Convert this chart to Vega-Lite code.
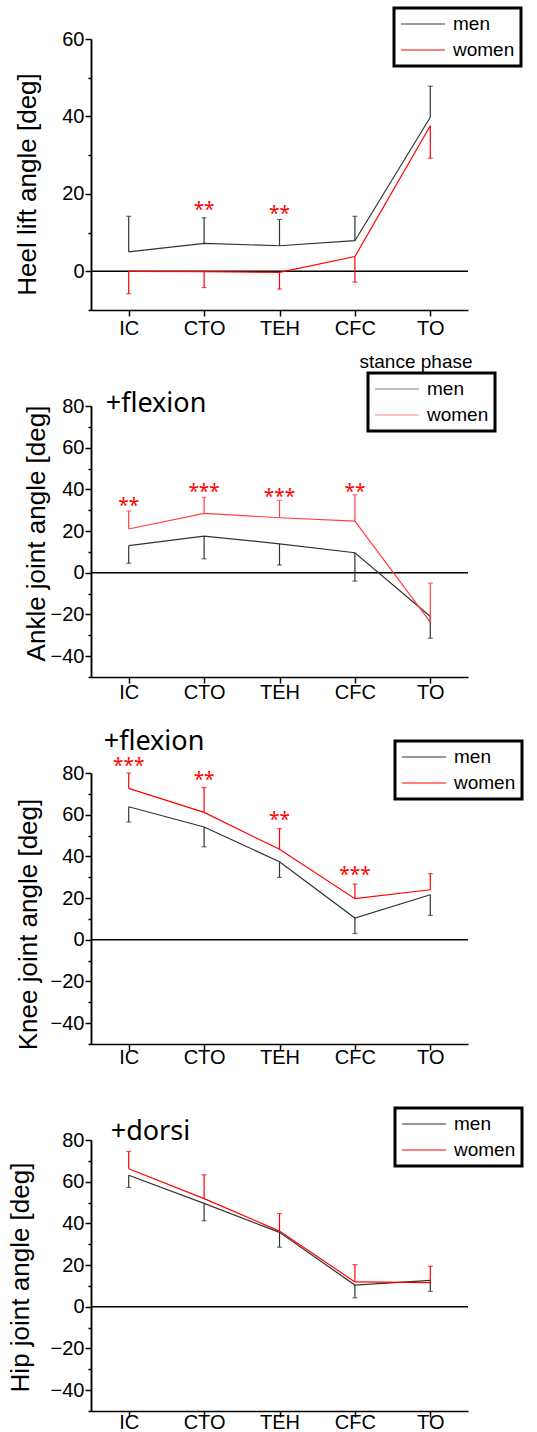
{
  "$schema": "https://vega.github.io/schema/vega-lite/v6.json",
  "background": "white",
  "padding": {"left": 6, "top": 6, "right": 5, "bottom": 5},
  "datasets": {
    "angles": [
      {"panel": "heel", "phase": "IC", "sex": "men", "mean": 5.0, "bar": 14.2},
      {"panel": "heel", "phase": "CTO", "sex": "men", "mean": 7.2, "bar": 13.8},
      {"panel": "heel", "phase": "TEH", "sex": "men", "mean": 6.6, "bar": 13.4},
      {"panel": "heel", "phase": "CFC", "sex": "men", "mean": 7.9, "bar": 14.2},
      {"panel": "heel", "phase": "TO", "sex": "men", "mean": 39.8, "bar": 47.8},
      {"panel": "heel", "phase": "IC", "sex": "women", "mean": 0.0, "bar": -5.8},
      {"panel": "heel", "phase": "CTO", "sex": "women", "mean": -0.1, "bar": -4.2},
      {"panel": "heel", "phase": "TEH", "sex": "women", "mean": -0.3, "bar": -4.6},
      {"panel": "heel", "phase": "CFC", "sex": "women", "mean": 3.8, "bar": -2.8},
      {"panel": "heel", "phase": "TO", "sex": "women", "mean": 37.6, "bar": 29.2},
      {"panel": "ankle", "phase": "IC", "sex": "men", "mean": 13.0, "bar": 4.6},
      {"panel": "ankle", "phase": "CTO", "sex": "men", "mean": 17.6, "bar": 6.7},
      {"panel": "ankle", "phase": "TEH", "sex": "men", "mean": 13.9, "bar": 3.7},
      {"panel": "ankle", "phase": "CFC", "sex": "men", "mean": 9.6, "bar": -4.0},
      {"panel": "ankle", "phase": "TO", "sex": "men", "mean": -21.0, "bar": -31.4},
      {"panel": "ankle", "phase": "IC", "sex": "women", "mean": 21.0, "bar": 29.6},
      {"panel": "ankle", "phase": "CTO", "sex": "women", "mean": 28.5, "bar": 36.2},
      {"panel": "ankle", "phase": "TEH", "sex": "women", "mean": 26.4, "bar": 34.7},
      {"panel": "ankle", "phase": "CFC", "sex": "women", "mean": 24.8, "bar": 37.4},
      {"panel": "ankle", "phase": "TO", "sex": "women", "mean": -23.7, "bar": -5.0},
      {"panel": "knee", "phase": "IC", "sex": "men", "mean": 63.8, "bar": 56.5},
      {"panel": "knee", "phase": "CTO", "sex": "men", "mean": 54.1, "bar": 44.6},
      {"panel": "knee", "phase": "TEH", "sex": "men", "mean": 37.4, "bar": 29.9},
      {"panel": "knee", "phase": "CFC", "sex": "men", "mean": 10.4, "bar": 3.0},
      {"panel": "knee", "phase": "TO", "sex": "men", "mean": 21.6, "bar": 11.7},
      {"panel": "knee", "phase": "IC", "sex": "women", "mean": 72.6, "bar": 80.0},
      {"panel": "knee", "phase": "CTO", "sex": "women", "mean": 61.1, "bar": 73.0},
      {"panel": "knee", "phase": "TEH", "sex": "women", "mean": 43.4, "bar": 53.3},
      {"panel": "knee", "phase": "CFC", "sex": "women", "mean": 19.7, "bar": 26.7},
      {"panel": "knee", "phase": "TO", "sex": "women", "mean": 24.0, "bar": 31.7},
      {"panel": "hip", "phase": "IC", "sex": "men", "mean": 63.1, "bar": 57.2},
      {"panel": "hip", "phase": "CTO", "sex": "men", "mean": 49.6, "bar": 41.3},
      {"panel": "hip", "phase": "TEH", "sex": "men", "mean": 35.7, "bar": 28.6},
      {"panel": "hip", "phase": "CFC", "sex": "men", "mean": 10.4, "bar": 4.3},
      {"panel": "hip", "phase": "TO", "sex": "men", "mean": 12.7, "bar": 7.4},
      {"panel": "hip", "phase": "IC", "sex": "women", "mean": 66.2, "bar": 74.5},
      {"panel": "hip", "phase": "CTO", "sex": "women", "mean": 51.9, "bar": 63.3},
      {"panel": "hip", "phase": "TEH", "sex": "women", "mean": 36.3, "bar": 44.7},
      {"panel": "hip", "phase": "CFC", "sex": "women", "mean": 11.9, "bar": 20.2},
      {"panel": "hip", "phase": "TO", "sex": "women", "mean": 11.6, "bar": 19.4}
    ],
    "notes": [
      {"panel": "heel", "kind": "sig", "phase": "CTO", "label": "**", "pos": 14.4},
      {"panel": "heel", "kind": "sig", "phase": "TEH", "label": "**", "pos": 13.2},
      {"panel": "ankle", "kind": "sig", "phase": "IC", "label": "**", "pos": 29.3},
      {"panel": "ankle", "kind": "sig", "phase": "CTO", "label": "***", "pos": 36.0},
      {"panel": "ankle", "kind": "sig", "phase": "TEH", "label": "***", "pos": 33.6},
      {"panel": "ankle", "kind": "sig", "phase": "CFC", "label": "**", "pos": 36.0},
      {"panel": "knee", "kind": "sig", "phase": "IC", "label": "***", "pos": 80.3},
      {"panel": "knee", "kind": "sig", "phase": "CTO", "label": "**", "pos": 73.8},
      {"panel": "knee", "kind": "sig", "phase": "TEH", "label": "**", "pos": 54.6},
      {"panel": "knee", "kind": "sig", "phase": "CFC", "label": "***", "pos": 28.3},
      {"panel": "ankle", "kind": "dir", "phase": "IC", "label": "+flexion", "pos": 77.3},
      {"panel": "knee", "kind": "dir", "phase": "IC", "label": "+flexion", "pos": 90.9},
      {"panel": "hip", "kind": "dir", "phase": "IC", "label": "+dorsi", "pos": 80.0}
    ]
  },
  "config": {
    "view": {"stroke": null},
    "axis": {
      "grid": false,
      "labelFont": "Liberation Sans", "labelFontSize": 20, "labelColor": "black", "labelOverlap": false,
      "domainColor": "black", "domainWidth": 1.5,
      "tickColor": "black", "tickWidth": 1.5,
      "titleFont": "Liberation Sans", "titleFontSize": 26, "titleFontWeight": "normal", "titleColor": "black"
    },
    "legend": {
      "orient": "none", "direction": "vertical", "title": null,
      "symbolType": "stroke", "symbolSize": 1936, "symbolStrokeWidth": 1.2,
      "clipHeight": 20, "rowPadding": 6, "padding": 6, "labelOffset": 7,
      "labelFont": "Liberation Sans", "labelFontSize": 19, "labelColor": "black",
      "strokeColor": "black", "fillColor": "white"
    }
  },
  "bounds": "flush",
  "spacing": 96,
  "resolve": {"scale": {"y": "independent", "color": "independent"}, "legend": {"color": "independent"}},
  "vconcat": [
    {
      "width": 377, "height": 271,
      "resolve": {"axis": {"y": "independent"}},
      "layer": [
        {"data": {"values": [{"mean": 0}]}, "mark": {"type": "rule", "color": "black", "strokeWidth": 1.5},
         "encoding": {"y": {"field": "mean", "type": "quantitative", "scale": {"domain": [-10, 60], "nice": false, "zero": false},
           "axis": {"orient": "left", "values": [-10, 10, 30, 50], "labels": false, "tickSize": 3, "title": null}}}},
        {"data": {"name": "angles"}, "transform": [{"filter": "datum.panel === 'heel'"}],
         "mark": {"type": "line", "strokeWidth": 1.2},
         "encoding": {
           "x": {"field": "phase", "type": "nominal", "sort": null, "scale": {"type": "point", "padding": 0.5, "domain": ["IC", "CTO", "TEH", "CFC", "TO"]},
                 "axis": {"title": "stance phase", "titleFontSize": 19, "titleX": 268, "titleY": 57, "titleAlign": "left", "titleBaseline": "alphabetic", "labelAngle": 0, "tickSize": 6, "labelPadding": 2}},
           "y": {"field": "mean", "type": "quantitative", "scale": {"domain": [-10, 60], "nice": false, "zero": false},
                 "axis": {"orient": "left", "title": "Heel lift angle [deg]", "titleX": -56, "titleY": 145, "titleAlign": "center", "titleBaseline": "alphabetic",
                          "values": [0, 20, 40, 60], "tickSize": 6, "labelPadding": 1}},
           "color": {"field": "sex", "type": "nominal", "scale": {"domain": ["men", "women"], "range": ["#333333", "#ff0000"]},
                     "legend": {"legendX": 303, "legendY": -31, "encode": {"legend": {"update": {"strokeWidth": {"value": 3}}}}}}
         }},
        {"data": {"name": "angles"}, "transform": [{"filter": "datum.panel === 'heel'"}],
         "mark": {"type": "rule", "strokeWidth": 1.2},
         "encoding": {
           "x": {"field": "phase", "type": "nominal", "sort": null},
           "y": {"field": "mean", "type": "quantitative", "scale": {"domain": [-10, 60], "nice": false, "zero": false}, "axis": null},
           "y2": {"field": "bar"},
           "color": {"field": "sex", "type": "nominal"}
         }},
        {"data": {"name": "angles"}, "transform": [{"filter": "datum.panel === 'heel'"}],
         "mark": {"type": "tick", "orient": "horizontal", "size": 5, "thickness": 1.2},
         "encoding": {
           "x": {"field": "phase", "type": "nominal", "sort": null},
           "y": {"field": "bar", "type": "quantitative", "scale": {"domain": [-10, 60], "nice": false, "zero": false}, "axis": null},
           "color": {"field": "sex", "type": "nominal"}
         }},
        {"data": {"name": "notes"}, "transform": [{"filter": "datum.panel === 'heel' && datum.kind === 'sig'"}],
         "mark": {"type": "text", "font": "Noto Sans", "fontSize": 19, "color": "red", "baseline": "alphabetic", "align": "center"},
         "encoding": {
           "x": {"field": "phase", "type": "nominal", "sort": null},
           "y": {"field": "pos", "type": "quantitative", "scale": {"domain": [-10, 60], "nice": false, "zero": false}, "axis": null},
           "text": {"field": "label"}
         }}
      ]
    },
    {
      "width": 377, "height": 271,
      "resolve": {"axis": {"y": "independent"}},
      "layer": [
        {"data": {"values": [{"mean": 0}]}, "mark": {"type": "rule", "color": "black", "strokeWidth": 1.5},
         "encoding": {"y": {"field": "mean", "type": "quantitative", "scale": {"domain": [-50, 80], "nice": false, "zero": false},
           "axis": {"orient": "left", "values": [-50, -30, -10, 10, 30, 50, 70], "labels": false, "tickSize": 3, "title": null}}}},
        {"data": {"name": "angles"}, "transform": [{"filter": "datum.panel === 'ankle'"}],
         "mark": {"type": "line", "strokeWidth": 1.2},
         "encoding": {
           "x": {"field": "phase", "type": "nominal", "sort": null, "scale": {"type": "point", "padding": 0.5, "domain": ["IC", "CTO", "TEH", "CFC", "TO"]},
                 "axis": {"title": null, "labelAngle": 0, "tickSize": 6, "labelPadding": -1}},
           "y": {"field": "mean", "type": "quantitative", "scale": {"domain": [-50, 80], "nice": false, "zero": false},
                 "axis": {"orient": "left", "title": "Ankle joint angle [deg]", "titleX": -47, "titleY": 127, "titleAlign": "center", "titleBaseline": "alphabetic",
                          "values": [-40, -20, 0, 20, 40, 60, 80], "tickSize": 6, "labelPadding": 1}},
           "color": {"field": "sex", "type": "nominal", "scale": {"domain": ["men", "women"], "range": ["#333333", "#ff4040"]},
                     "legend": {"legendX": 277, "legendY": -33, "symbolOpacity": 0.6, "encode": {"legend": {"update": {"strokeWidth": {"value": 3}}}}}}
         }},
        {"data": {"name": "angles"}, "transform": [{"filter": "datum.panel === 'ankle'"}],
         "mark": {"type": "rule", "strokeWidth": 1.2},
         "encoding": {
           "x": {"field": "phase", "type": "nominal", "sort": null},
           "y": {"field": "mean", "type": "quantitative", "scale": {"domain": [-50, 80], "nice": false, "zero": false}, "axis": null},
           "y2": {"field": "bar"},
           "color": {"field": "sex", "type": "nominal"}
         }},
        {"data": {"name": "angles"}, "transform": [{"filter": "datum.panel === 'ankle'"}],
         "mark": {"type": "tick", "orient": "horizontal", "size": 5, "thickness": 1.2},
         "encoding": {
           "x": {"field": "phase", "type": "nominal", "sort": null},
           "y": {"field": "bar", "type": "quantitative", "scale": {"domain": [-50, 80], "nice": false, "zero": false}, "axis": null},
           "color": {"field": "sex", "type": "nominal"}
         }},
        {"data": {"name": "notes"}, "transform": [{"filter": "datum.panel === 'ankle' && datum.kind === 'sig'"}],
         "mark": {"type": "text", "font": "Noto Sans", "fontSize": 19, "color": "red", "baseline": "alphabetic", "align": "center"},
         "encoding": {
           "x": {"field": "phase", "type": "nominal", "sort": null},
           "y": {"field": "pos", "type": "quantitative", "scale": {"domain": [-50, 80], "nice": false, "zero": false}, "axis": null},
           "text": {"field": "label"}
         }},
        {"data": {"name": "notes"}, "transform": [{"filter": "datum.panel === 'ankle' && datum.kind === 'dir'"}],
         "mark": {"type": "text", "font": "Noto Sans", "fontSize": 27, "color": "black", "baseline": "alphabetic", "align": "left", "dx": -23},
         "encoding": {
           "x": {"field": "phase", "type": "nominal", "sort": null},
           "y": {"field": "pos", "type": "quantitative", "scale": {"domain": [-50, 80], "nice": false, "zero": false}, "axis": null},
           "text": {"field": "label"}
         }}
      ]
    },
    {
      "width": 377, "height": 271,
      "resolve": {"axis": {"y": "independent"}},
      "layer": [
        {"data": {"values": [{"mean": 0}]}, "mark": {"type": "rule", "color": "black", "strokeWidth": 1.5},
         "encoding": {"y": {"field": "mean", "type": "quantitative", "scale": {"domain": [-50, 80], "nice": false, "zero": false},
           "axis": {"orient": "left", "values": [-50, -30, -10, 10, 30, 50, 70], "labels": false, "tickSize": 3, "title": null}}}},
        {"data": {"name": "angles"}, "transform": [{"filter": "datum.panel === 'knee'"}],
         "mark": {"type": "line", "strokeWidth": 1.2},
         "encoding": {
           "x": {"field": "phase", "type": "nominal", "sort": null, "scale": {"type": "point", "padding": 0.5, "domain": ["IC", "CTO", "TEH", "CFC", "TO"]},
                 "axis": {"title": null, "labelAngle": 0, "tickSize": 6, "labelPadding": -3}},
           "y": {"field": "mean", "type": "quantitative", "scale": {"domain": [-50, 80], "nice": false, "zero": false},
                 "axis": {"orient": "left", "title": "Knee joint angle [deg]", "titleX": -55, "titleY": 151, "titleAlign": "center", "titleBaseline": "alphabetic",
                          "values": [-40, -20, 0, 20, 40, 60, 80], "tickSize": 6, "labelPadding": 1}},
           "color": {"field": "sex", "type": "nominal", "scale": {"domain": ["men", "women"], "range": ["#333333", "#ff0000"]},
                     "legend": {"legendX": 304, "legendY": -32, "encode": {"legend": {"update": {"strokeWidth": {"value": 3}}}}}}
         }},
        {"data": {"name": "angles"}, "transform": [{"filter": "datum.panel === 'knee'"}],
         "mark": {"type": "rule", "strokeWidth": 1.2},
         "encoding": {
           "x": {"field": "phase", "type": "nominal", "sort": null},
           "y": {"field": "mean", "type": "quantitative", "scale": {"domain": [-50, 80], "nice": false, "zero": false}, "axis": null},
           "y2": {"field": "bar"},
           "color": {"field": "sex", "type": "nominal"}
         }},
        {"data": {"name": "angles"}, "transform": [{"filter": "datum.panel === 'knee'"}],
         "mark": {"type": "tick", "orient": "horizontal", "size": 5, "thickness": 1.2},
         "encoding": {
           "x": {"field": "phase", "type": "nominal", "sort": null},
           "y": {"field": "bar", "type": "quantitative", "scale": {"domain": [-50, 80], "nice": false, "zero": false}, "axis": null},
           "color": {"field": "sex", "type": "nominal"}
         }},
        {"data": {"name": "notes"}, "transform": [{"filter": "datum.panel === 'knee' && datum.kind === 'sig'"}],
         "mark": {"type": "text", "font": "Noto Sans", "fontSize": 19, "color": "red", "baseline": "alphabetic", "align": "center"},
         "encoding": {
           "x": {"field": "phase", "type": "nominal", "sort": null},
           "y": {"field": "pos", "type": "quantitative", "scale": {"domain": [-50, 80], "nice": false, "zero": false}, "axis": null},
           "text": {"field": "label"}
         }},
        {"data": {"name": "notes"}, "transform": [{"filter": "datum.panel === 'knee' && datum.kind === 'dir'"}],
         "mark": {"type": "text", "font": "Noto Sans", "fontSize": 27, "color": "black", "baseline": "alphabetic", "align": "left", "dx": -25},
         "encoding": {
           "x": {"field": "phase", "type": "nominal", "sort": null},
           "y": {"field": "pos", "type": "quantitative", "scale": {"domain": [-50, 80], "nice": false, "zero": false}, "axis": null},
           "text": {"field": "label"}
         }}
      ]
    },
    {
      "width": 377, "height": 271,
      "resolve": {"axis": {"y": "independent"}},
      "layer": [
        {"data": {"values": [{"mean": 0}]}, "mark": {"type": "rule", "color": "black", "strokeWidth": 1.5},
         "encoding": {"y": {"field": "mean", "type": "quantitative", "scale": {"domain": [-50, 80], "nice": false, "zero": false},
           "axis": {"orient": "left", "values": [-50, -30, -10, 10, 30, 50, 70], "labels": false, "tickSize": 3, "title": null}}}},
        {"data": {"name": "angles"}, "transform": [{"filter": "datum.panel === 'hip'"}],
         "mark": {"type": "line", "strokeWidth": 1.2},
         "encoding": {
           "x": {"field": "phase", "type": "nominal", "sort": null, "scale": {"type": "point", "padding": 0.5, "domain": ["IC", "CTO", "TEH", "CFC", "TO"]},
                 "axis": {"title": null, "labelAngle": 0, "tickSize": 6, "labelPadding": -5}},
           "y": {"field": "mean", "type": "quantitative", "scale": {"domain": [-50, 80], "nice": false, "zero": false},
                 "axis": {"orient": "left", "title": "Hip joint angle [deg]", "titleX": -63, "titleY": 137, "titleAlign": "center", "titleBaseline": "alphabetic",
                          "values": [-40, -20, 0, 20, 40, 60, 80], "tickSize": 6, "labelPadding": 1}},
           "color": {"field": "sex", "type": "nominal", "scale": {"domain": ["men", "women"], "range": ["#333333", "#ff0000"]},
                     "legend": {"legendX": 304, "legendY": -32, "encode": {"legend": {"update": {"strokeWidth": {"value": 3}}}}}}
         }},
        {"data": {"name": "angles"}, "transform": [{"filter": "datum.panel === 'hip'"}],
         "mark": {"type": "rule", "strokeWidth": 1.2},
         "encoding": {
           "x": {"field": "phase", "type": "nominal", "sort": null},
           "y": {"field": "mean", "type": "quantitative", "scale": {"domain": [-50, 80], "nice": false, "zero": false}, "axis": null},
           "y2": {"field": "bar"},
           "color": {"field": "sex", "type": "nominal"}
         }},
        {"data": {"name": "angles"}, "transform": [{"filter": "datum.panel === 'hip'"}],
         "mark": {"type": "tick", "orient": "horizontal", "size": 5, "thickness": 1.2},
         "encoding": {
           "x": {"field": "phase", "type": "nominal", "sort": null},
           "y": {"field": "bar", "type": "quantitative", "scale": {"domain": [-50, 80], "nice": false, "zero": false}, "axis": null},
           "color": {"field": "sex", "type": "nominal"}
         }},
        {"data": {"name": "notes"}, "transform": [{"filter": "datum.panel === 'hip' && datum.kind === 'dir'"}],
         "mark": {"type": "text", "font": "Noto Sans", "fontSize": 27, "color": "black", "baseline": "alphabetic", "align": "left", "dx": -18},
         "encoding": {
           "x": {"field": "phase", "type": "nominal", "sort": null},
           "y": {"field": "pos", "type": "quantitative", "scale": {"domain": [-50, 80], "nice": false, "zero": false}, "axis": null},
           "text": {"field": "label"}
         }}
      ]
    }
  ]
}
